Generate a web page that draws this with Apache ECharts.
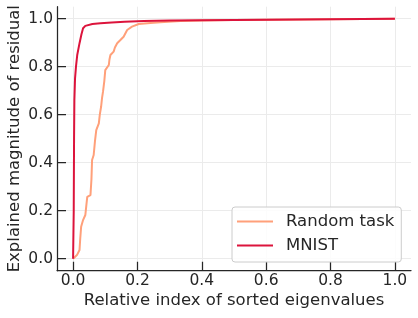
<!DOCTYPE html>
<html>
<head>
<meta charset="utf-8">
<script src="https://cdn.jsdelivr.net/npm/echarts@6/dist/echarts.min.js"></script>
<style>html,body{margin:0;padding:0;background:#fff}#c{width:418px;height:318px}</style>
</head>
<body>
<div id="c"></div>
<script>
var seriesNames = ['Random task', 'MNIST'];
var tickValues = [0, 0.2, 0.4, 0.6, 0.8, 1.0];
var xRandom = [0, 0.012, 0.02, 0.022, 0.025, 0.031, 0.038, 0.041, 0.044, 0.054, 0.057, 0.059, 0.064, 0.068, 0.072, 0.08, 0.083, 0.087, 0.09, 0.093, 0.097, 0.1, 0.111, 0.113, 0.116, 0.126, 0.13, 0.137, 0.147, 0.157, 0.168, 0.183, 0.204, 0.24, 0.271, 0.334, 0.4, 0.5, 0.6, 0.7, 0.8, 0.9, 1.0];
var yRandom = [0, 0.015, 0.036, 0.08, 0.133, 0.161, 0.182, 0.22, 0.258, 0.265, 0.33, 0.411, 0.432, 0.49, 0.536, 0.564, 0.6, 0.633, 0.67, 0.696, 0.74, 0.786, 0.807, 0.83, 0.849, 0.863, 0.88, 0.898, 0.911, 0.925, 0.953, 0.967, 0.978, 0.982, 0.985, 0.99, 0.993, 0.995, 0.996, 0.997, 0.998, 0.999, 1.0];
var xMnist = [0, 0.002, 0.003, 0.004, 0.006, 0.009, 0.013, 0.02, 0.026, 0.031, 0.038, 0.044, 0.06, 0.085, 0.12, 0.16, 0.22, 0.3, 0.4, 0.5, 0.6, 0.7, 0.8, 0.9, 1.0];
var yMnist = [0, 0.2, 0.5, 0.66, 0.75, 0.8, 0.85, 0.898, 0.935, 0.96, 0.97, 0.974, 0.978, 0.981, 0.984, 0.987, 0.99, 0.992, 0.994, 0.995, 0.996, 0.997, 0.998, 0.999, 1.0];

function pairs(xs, ys) { return xs.map(function (x, i) { return [x, ys[i]]; }); }

var FONT = 'DejaVu Sans';
var TXT = '#262626';
function axisCommon(name) {
  return {
    type: 'value', min: -0.05, max: 1.05, name: name, nameLocation: 'middle', nameMoveOverlap: false,
    nameTextStyle: { fontFamily: FONT, fontSize: 16.5, color: TXT },
    axisLine: { show: true, onZero: false, lineStyle: { color: TXT, width: 1.25 } },
    axisTick: { show: true, inside: true, length: 9, customValues: tickValues, lineStyle: { color: TXT, width: 1.25 } },
    axisLabel: { customValues: tickValues, fontFamily: FONT, fontSize: 15.5, color: TXT,
      formatter: function (v) { return v.toFixed(1); } },
    splitLine: { show: true, lineStyle: { color: '#ebebeb', width: 1 } }
  };
}
var xa = axisCommon('Relative index of sorted eigenvalues');
xa.nameGap = 21.5; xa.axisLabel.margin = 2;
var ya = axisCommon('Explained magnitude of residual');
ya.nameGap = 34; ya.axisLabel.margin = 4;

var chart = echarts.init(document.getElementById('c'), null, { renderer: 'canvas' });
chart.setOption({
  animation: false,
  backgroundColor: '#ffffff',
  grid: { left: 57, right: 7, top: 6.7, bottom: 47.3, containLabel: false, outerBoundsMode: 'none' },
  xAxis: xa,
  yAxis: ya,
  legend: {
    orient: 'vertical', left: 232, top: 207,
    data: seriesNames, icon: 'rect', itemWidth: 36, itemHeight: 2.2, itemGap: 7,
    padding: [6, 7, 8, 5],
    backgroundColor: 'rgba(255,255,255,0.85)', borderColor: '#cccccc', borderWidth: 1, borderRadius: 3,
    textStyle: { fontFamily: FONT, fontSize: 16.5, color: TXT, lineHeight: 16, padding: [0, 0, 0, 8] }
  },
  series: [
    { name: seriesNames[0], type: 'line', data: pairs(xRandom, yRandom), showSymbol: false,
      lineStyle: { color: '#ffa07a', width: 2 }, itemStyle: { color: '#ffa07a' }, z: 2 },
    { name: seriesNames[1], type: 'line', data: pairs(xMnist, yMnist), showSymbol: false,
      lineStyle: { color: '#dc143c', width: 2 }, itemStyle: { color: '#dc143c' }, z: 3 }
  ]
});
</script>
</body>
</html>
